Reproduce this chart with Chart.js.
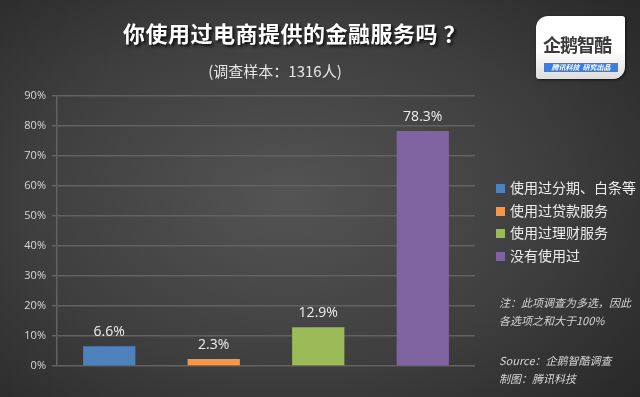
<!DOCTYPE html>
<html>
<head>
<meta charset="utf-8">
<script src="https://cdn.jsdelivr.net/npm/chart.js@4"></script>
<style>
  html, body { margin: 0; padding: 0; }
  body {
    width: 640px; height: 397px; overflow: hidden; position: relative;
    background: radial-gradient(ellipse 75% 80% at 45% 50%, #545454 0%, #3e3e3e 55%, #262626 100%);
    font-family: "Noto Sans CJK SC", "Noto Sans", sans-serif;
    color: #e8e8e8;
  }
  #chartWrap { position: absolute; left: 0; top: 0; width: 640px; height: 397px; }
  .title {
    position: absolute; left: 107px; width: 375px; top: 16px; text-align: center;
    font-size: 22px; font-weight: bold; color: #fff; letter-spacing: 0.5px;
    text-shadow: 2px 2px 3px rgba(0,0,0,0.8);
  }
  .subtitle {
    position: absolute; left: 175px; width: 200px; top: 60px; text-align: center;
    font-size: 15px; color: #e6e6e6;
  }
  .legend { position: absolute; left: 496px; top: 176px; font-size: 14px; color: #ececec; }
  .legend div { height: 22.5px; line-height: 22px; white-space: nowrap; }
  .legend span.sw { display: inline-block; width: 9px; height: 9px; margin-right: 5px; }
  .note { position: absolute; left: 499px; font-style: italic; font-size: 11px; color: #d6d6d6; line-height: 18px; white-space: nowrap; }
  .logo {
    position: absolute; left: 536px; top: 16px; width: 89px; height: 63px;
    background: linear-gradient(#ffffff 0%, #ffffff 55%, #dcdcdc 100%);
    border-radius: 12px 3px 12px 3px; box-shadow: 1px 1px 3px rgba(0,0,0,0.6);
  }
  .logo .name { position: absolute; left: 7px; top: 15px; font-size: 18px; font-weight: bold; color: #3a3a3a; letter-spacing: -1px; }
  .logo .bar {
    position: absolute; left: 8px; top: 47px; width: 74px; height: 9px; background: #3b7ee0;
    font-size: 7px; line-height: 9px; color: #fff; text-align: center; font-style: italic; font-weight: bold;
  }
</style>
</head>
<body>
<div id="chartWrap"><canvas id="c" width="640" height="397"></canvas></div>
<div class="title">你使用过电商提供的金融服务吗 ？</div>
<div class="subtitle">(调查样本：1316人)</div>
<div class="legend" id="legend"></div>
<div class="note" style="top:293px">注：此项调查为多选，因此<br>各选项之和大于100%</div>
<div class="note" style="top:351px">Source：企鹅智酷调查<br>制图：腾讯科技</div>
<div class="logo"><div class="name">企鹅智酷</div><div class="bar">腾讯科技&nbsp;&nbsp;研究出品</div></div>
<script>
  // ── Data ──
  var CATEGORIES = ['使用过分期、白条等', '使用过贷款服务', '使用过理财服务', '没有使用过'];
  var VALUES     = [6.6, 2.3, 12.9, 78.3];
  var COLORS     = ['#4f81bd', '#f79646', '#9bbb59', '#8064a2'];
  var Y_TICKS    = [0, 10, 20, 30, 40, 50, 60, 70, 80, 90];

  // ── HTML legend ──
  var legendEl = document.getElementById('legend');
  for (var i = 0; i < CATEGORIES.length; i++) {
    var row = document.createElement('div');
    row.innerHTML = '<span class="sw" style="background:' + COLORS[i] + '"></span>' + CATEGORIES[i];
    legendEl.appendChild(row);
  }

  // ── Value labels above bars ──
  var valueLabels = {
    id: 'valueLabels',
    afterDatasetsDraw: function (chart) {
      var ctx = chart.ctx;
      var meta = chart.getDatasetMeta(0);
      ctx.save();
      ctx.fillStyle = '#eeeeee';
      ctx.font = '14px "Open Sans", "Noto Sans", sans-serif';
      ctx.textAlign = 'center';
      ctx.textBaseline = 'middle';
      for (var i = 0; i < meta.data.length; i++) {
        var bar = meta.data[i];
        ctx.fillText(VALUES[i].toFixed(1) + '%', bar.x, bar.y - 14);
      }
      ctx.restore();
    }
  };

  new Chart(document.getElementById('c').getContext('2d'), {
    type: 'bar',
    data: {
      labels: CATEGORIES,
      datasets: [{
        data: VALUES,
        backgroundColor: COLORS,
        borderWidth: 0,
        barPercentage: 0.5,
        categoryPercentage: 1.0
      }]
    },
    options: {
      responsive: false,
      animation: false,
      layout: { padding: { left: 0, top: 96, right: 165, bottom: 31 } },
      plugins: { legend: { display: false }, tooltip: { enabled: false } },
      scales: {
        x: { display: false },
        y: {
          min: 0,
          max: 90,
          afterFit: function (s) { s.width = 57; },
          afterBuildTicks: function (s) { s.ticks = Y_TICKS.map(function (v) { return { value: v }; }); },
          ticks: {
            color: '#d8d8d8',
            font: { size: 11, family: '"Open Sans", "Noto Sans", sans-serif' },
            padding: 6,
            callback: function (v) { return v + '%'; }
          },
          grid: { color: '#626262', lineWidth: 1.5, tickLength: 5, tickColor: '#626262' },
          border: { display: true, color: '#626262', width: 1.5 }
        }
      }
    },
    plugins: [valueLabels]
  });
</script>
</body>
</html>
